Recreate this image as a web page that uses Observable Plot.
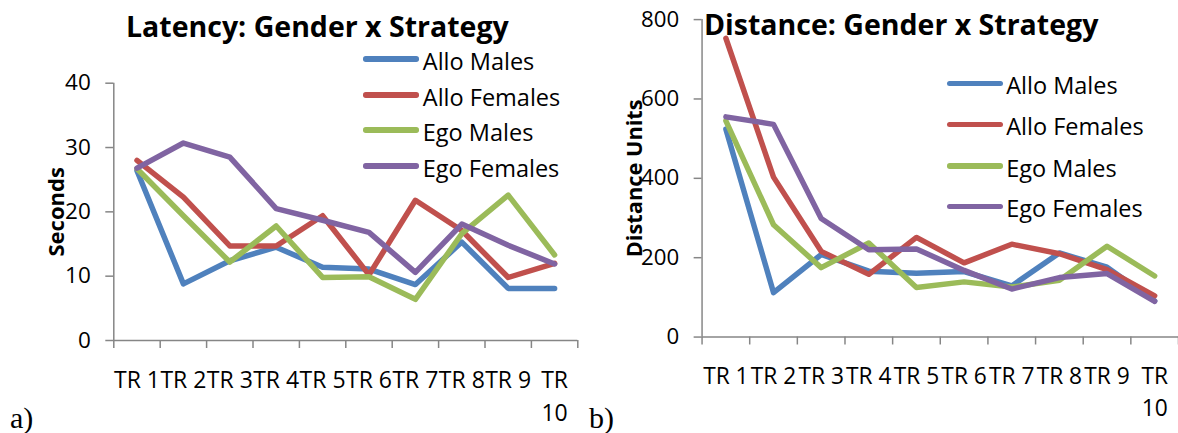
<!DOCTYPE html>
<html><head><meta charset="utf-8">
<script src="https://cdn.jsdelivr.net/npm/d3@7"></script>
<script src="https://cdn.jsdelivr.net/npm/@observablehq/plot@0.6"></script>
<style>
html,body{margin:0;padding:0;background:#fff;}
#root{position:relative;width:1178px;height:433px;overflow:hidden;font-family:"Open Sans",sans-serif;color:#000;}
.abs{position:absolute;white-space:nowrap;line-height:1;}
.panel{position:absolute;top:0;}
</style></head><body><div id="root"></div>
<script>
// ---- data ----
const trials = ["TR 1","TR 2","TR 3","TR 4","TR 5","TR 6","TR 7","TR 8","TR 9","TR 10"];
const seriesNames = ["Allo Males","Allo Females","Ego Males","Ego Females"];
const seriesColors = ["#4F81BD","#C0504D","#9BBB59","#8064A2"];

const latencyAlloMales   = [26.4, 8.8, 12.4, 14.5, 11.4, 11.1, 8.7, 15.3, 8.1, 8.1];
const latencyAlloFemales = [28.0, 22.3, 14.7, 14.7, 19.4, 10.2, 21.8, 17.1, 9.8, 12.0];
const latencyEgoMales    = [26.7, 19.4, 12.2, 17.8, 9.8, 9.9, 6.4, 16.6, 22.6, 13.3];
const latencyEgoFemales  = [26.8, 30.7, 28.5, 20.5, 18.7, 16.8, 10.6, 18.1, 14.8, 11.9];

const distanceAlloMales   = [524, 112, 208, 166, 161, 165, 129, 212, 176, 91];
const distanceAlloFemales = [753, 403, 216, 158, 251, 187, 234, 210, 170, 104];
const distanceEgoMales    = [545, 283, 175, 237, 125, 139, 126, 143, 229, 154];
const distanceEgoFemales  = [555, 536, 299, 220, 222, 168, 121, 150, 160, 90];

const latencyTicks = [0, 10, 20, 30, 40];
const distanceTicks = [0, 200, 400, 600, 800];

const latencyTitle = "Latency: Gender x Strategy";
const distanceTitle = "Distance: Gender x Strategy";
const latencyYLabel = "Seconds";
const distanceYLabel = "Distance Units";
const panelTags = ["a)", "b)"];

// ---- drawing ----
const axisGray = "#868686";
const root = document.getElementById("root");

function wrapLabel(s) { return s.length > 4 ? s.replace(" ", "\n") : s; }

function makePanel(cfg) {
  const rows = [];
  cfg.series.forEach((vals, si) => {
    vals.forEach((v, i) => rows.push({series: seriesNames[si], i: i + 0.5, trial: trials[i], value: v}));
  });
  const plot = Plot.plot({
    width: cfg.width, height: 433,
    marginLeft: cfg.marginLeft, marginRight: cfg.marginRight,
    marginTop: cfg.marginTop, marginBottom: 93,
    style: {fontFamily: "Open Sans", fontSize: "22px", background: "transparent", overflow: "visible", color: "black"},
    x: {domain: [0, trials.length], axis: null},
    y: {domain: [0, cfg.yTicks[cfg.yTicks.length - 1]], axis: null},
    color: {domain: seriesNames, range: seriesColors},
    marks: [
      Plot.axisY({ticks: cfg.yTicks, tickSize: 8, tickPadding: 15, stroke: axisGray, strokeWidth: 1.5, fill: "black", fontSize: 22.5, label: null}),
      Plot.axisX({ticks: d3.range(trials.length + 1), tickSize: 8, tickFormat: () => "", stroke: axisGray, strokeWidth: 1.5, label: null}),
      Plot.axisX({ticks: trials.map((_, i) => i + 0.5), tickSize: 0, tickPadding: 25, tickFormat: v => wrapLabel(trials[Math.floor(v)]), fill: "black", fontSize: 23, lineHeight: 1.4, label: null}),
      Plot.ruleX([0], {stroke: axisGray, strokeWidth: 1.5}),
      Plot.ruleY([0], {stroke: axisGray, strokeWidth: 1.5}),
      Plot.line(rows, {x: "i", y: "value", z: "series", stroke: "series", strokeWidth: 5.5, strokeLinejoin: "round", strokeLinecap: "round"}),
      Plot.text([cfg.yLabel], {frameAnchor: "left", textAnchor: "middle", rotate: -90, dx: cfg.labelDx, fontWeight: "bold", fontSize: 22, fill: "black"})
    ]
  });
  const wrap = document.createElement("div");
  wrap.className = "panel";
  wrap.style.left = cfg.left + "px";
  wrap.appendChild(plot);
  root.appendChild(wrap);
}

function addText(text, left, top, style) {
  const d = document.createElement("div");
  d.className = "abs";
  d.textContent = text;
  d.style.left = left + "px";
  d.style.top = top + "px";
  Object.assign(d.style, style);
  root.appendChild(d);
}

function addLegend(barLeft, lineYs) {
  seriesNames.forEach((name, k) => {
    const bar = document.createElement("div");
    bar.className = "abs";
    Object.assign(bar.style, {left: barLeft + "px", top: (lineYs[k] - 2.75) + "px", width: "56px", height: "5.5px", borderRadius: "2.75px", background: seriesColors[k]});
    root.appendChild(bar);
    addText(name, barLeft + 59.5, lineYs[k] + 11.5 - 20.9, {fontSize: "23.5px"});
  });
}

makePanel({left: 0, width: 590, marginLeft: 113.3, marginRight: 12.7, marginTop: 82.7,
  series: [latencyAlloMales, latencyAlloFemales, latencyEgoMales, latencyEgoFemales],
  yTicks: latencyTicks, yLabel: latencyYLabel, labelDx: -56.5});
makePanel({left: 590, width: 594, marginLeft: 112.7, marginRight: 0, marginTop: 19.3,
  series: [distanceAlloMales, distanceAlloFemales, distanceEgoMales, distanceEgoFemales],
  yTicks: distanceTicks, yLabel: distanceYLabel, labelDx: -67.5});

addText(latencyTitle, 126, 12, {fontSize: "28.5px", fontWeight: "bold"});
addText(distanceTitle, 704, 9.7, {fontSize: "28.5px", fontWeight: "bold"});
addLegend(363.3, [59, 95, 130, 166]);
addLegend(946.7, [83.3, 124.3, 166, 206.7]);
addText(panelTags[0], 10, 403, {fontSize: "30px", fontFamily: "'Liberation Serif', serif"});
addText(panelTags[1], 589, 403, {fontSize: "30px", fontFamily: "'Liberation Serif', serif"});
</script>
</body></html>
